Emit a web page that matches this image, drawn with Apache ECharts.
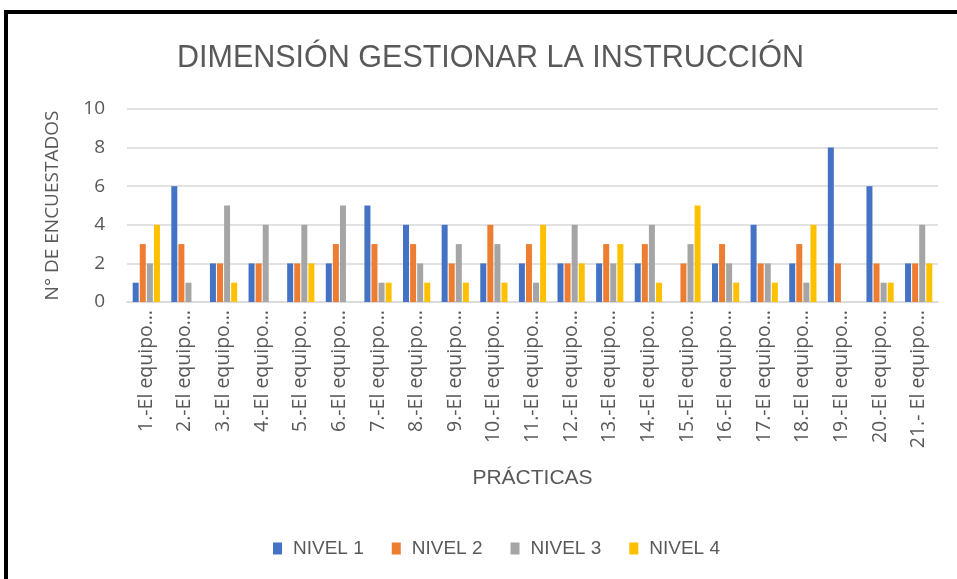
<!DOCTYPE html>
<html>
<head>
<meta charset="utf-8">
<script src="https://cdn.jsdelivr.net/npm/echarts@6/dist/echarts.min.js"></script>
<style>
    html, body { margin: 0; padding: 0; background: #fff; }
    #frame { position: absolute; left: 4px; top: 10px; width: 960px; height: 580px;
             border-left: 4px solid #000; border-top: 4px solid #000; box-sizing: border-box; }
    #chart { width: 957px; height: 579px; }
</style>
</head>
<body>
<div id="chart"></div>
<div id="frame"></div>
<script>
// categorias (prácticas) y valores por nivel
const categories = [
    "1.-El equipo…", "2.-El equipo…", "3.-El equipo…", "4.-El equipo…", "5.-El equipo…",
    "6.-El equipo…", "7.-El equipo…", "8.-El equipo…", "9.-El equipo…", "10.-El equipo…",
    "11.-El equipo…", "12.-El equipo…", "13.-El equipo…", "14.-El equipo…", "15.-El equipo…",
    "16.-El equipo…", "17.-El equipo…", "18.-El equipo…", "19.-El equipo…", "20.-El equipo…",
    "21.- El equipo…"
];
const nivel1 = [1, 6, 2, 2, 2, 2, 5, 4, 4, 2, 2, 2, 2, 2, 0, 2, 4, 2, 8, 6, 2];
const nivel2 = [3, 3, 2, 2, 2, 3, 3, 3, 2, 4, 3, 2, 3, 3, 2, 3, 2, 3, 2, 2, 2];
const nivel3 = [2, 1, 5, 4, 4, 5, 1, 2, 3, 3, 1, 4, 2, 4, 3, 2, 2, 1, 0, 1, 4];
const nivel4 = [4, 0, 1, 0, 2, 0, 1, 1, 1, 1, 4, 2, 3, 1, 5, 1, 1, 4, 0, 1, 2];
const yTicks = [0, 2, 4, 6, 8, 10];

const font = "'Liberation Sans', sans-serif";
const grey = "#595959";

(function () {
    let myChart = echarts.init(document.getElementById("chart"));

    // barra con ancho fijo
    function serie(name, data) {
        return {
            name: name,
            type: "bar",
            barWidth: 6,
            barGap: "18%",
            data: data
        };
    }

    let option = {
        color: ["#4472C4", "#ED7D31", "#A5A5A5", "#FFC000"],
        title: {
            text: "DIMENSIÓN GESTIONAR LA INSTRUCCIÓN",
            left: 172,
            top: 38,
            textStyle: { fontFamily: font, fontWeight: "normal", fontSize: 30.5, color: grey }
        },
        legend: {
            bottom: 16,
            left: 268,
            itemWidth: 9,
            itemHeight: 12,
            itemGap: 28,
            icon: "rect",
            textStyle: { fontFamily: font, fontSize: 19, color: grey, padding: [0, 0, 0, 6] },
            data: ["NIVEL 1", "NIVEL 2", "NIVEL 3", "NIVEL 4"]
        },
        grid: {
            left: 127,
            right: 19,
            top: 109,
            bottom: 277
        },
        xAxis: {
            type: "category",
            data: categories,
            name: "PRÁCTICAS",
            nameLocation: "middle",
            nameGap: 166,
            nameTextStyle: { fontFamily: font, fontSize: 21, color: grey },
            axisTick: { show: false },
            axisLine: { lineStyle: { color: "#D9D9D9", width: 1.5 } },
            axisLabel: {
                rotate: 90,
                interval: 0,
                margin: 8,
                fontFamily: "'Open Sans', sans-serif",
                fontSize: 19.5,
                color: grey
            }
        },
        yAxis: {
            type: "value",
            min: 0,
            max: yTicks[yTicks.length - 1],
            interval: 2,
            name: "N° DE ENCUESTADOS",
            nameLocation: "middle",
            nameGap: 65,
            nameTextStyle: { fontFamily: "'Open Sans', sans-serif", fontSize: 19, color: grey },
            axisLabel: {
                margin: 22,
                fontFamily: "'Open Sans', sans-serif",
                fontSize: 19,
                color: grey
            },
            splitLine: { lineStyle: { color: "#D9D9D9", width: 1.5 } }
        },
        series: [
            serie("NIVEL 1", nivel1),
            serie("NIVEL 2", nivel2),
            serie("NIVEL 3", nivel3),
            serie("NIVEL 4", nivel4)
        ]
    };
    myChart.setOption(option);
    window.addEventListener("resize", function () {
        myChart.resize();
    });
})();
</script>
</body>
</html>
